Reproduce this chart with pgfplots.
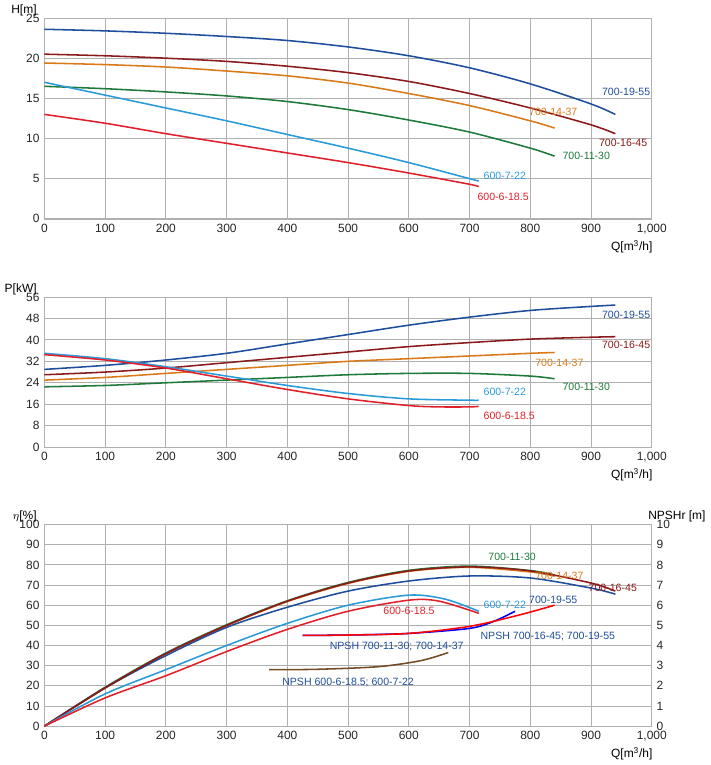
\documentclass[border=0pt]{standalone}
\usepackage{pgfplots}
\pgfplotsset{compat=1.18}
\usepackage{fontspec}
\setmainfont{Liberation Sans}
\definecolor{cA}{HTML}{1F4E9C}
\definecolor{cB}{HTML}{8B1A1A}
\definecolor{cC}{HTML}{D97A1A}
\definecolor{cD}{HTML}{1E7A3A}
\definecolor{cE}{HTML}{2A9AD8}
\definecolor{cF}{HTML}{E0202A}
\definecolor{gr}{HTML}{B0B0B0}
\tikzset{lab/.style={font=\fontsize{7.5}{8}\selectfont}}
\pgfplotsset{
  base/.style={scale only axis, width=431pt, xmin=0, xmax=1000, xtick={0,100,...,1000},
    grid=major, major grid style={gr, line width=0.6pt}, axis line style={gr},
    tick style={draw=none}, tick label style={font=\fontsize{8.5}{9}\selectfont, text=black!85},
    /pgf/number format/assume math mode=true,
    every axis plot/.append style={line width=1.1pt, smooth, no marks},
    xlabel={Q[m\textsuperscript{3}/h]}, xlabel style={at={(rel axis cs:1,0)}, anchor=north east, yshift=-12pt, xshift=4pt, font=\fontsize{8.5}{9}\selectfont},
    ylabel style={at={(rel axis cs:0,1)}, anchor=south east, rotate=-90, xshift=-2pt, yshift=-2pt, font=\fontsize{8.5}{9}\selectfont},
  },
}
\begin{document}
\begin{tikzpicture}
\begin{axis}[base, height=142.5pt, ymin=0, ymax=25, ytick={0,5,...,25}, ylabel={H[m]}]
\addplot[cA] coordinates {(0,23.6)(100,23.4)(200,23.1)(300,22.7)(400,22.2)(500,21.4)(600,20.3)(700,18.8)(800,16.8)(900,14.3)(940,13.0)};
\addplot[cB] coordinates {(0,20.5)(100,20.3)(200,20.0)(300,19.6)(400,19.0)(500,18.2)(600,17.1)(700,15.6)(800,13.8)(900,11.7)(940,10.6)};
\addplot[cC] coordinates {(0,19.4)(100,19.2)(200,18.9)(300,18.4)(400,17.8)(500,16.9)(600,15.6)(700,14.1)(800,12.2)(840,11.3)};
\addplot[cD] coordinates {(0,16.5)(100,16.2)(200,15.8)(300,15.3)(400,14.6)(500,13.6)(600,12.3)(700,10.8)(800,8.8)(840,7.8)};
\addplot[cE] coordinates {(0,17)(100,15.4)(200,13.8)(300,12.2)(400,10.5)(500,8.8)(600,7.0)(700,5.0)(715,4.7)};
\addplot[cF] coordinates {(0,13)(100,11.9)(200,10.6)(300,9.4)(400,8.2)(500,7.0)(600,5.7)(700,4.3)(715,4.0)};
\node[lab,text=cA,anchor=west] at (axis cs:910,15.8) {700-19-55};
\node[lab,text=cB,anchor=west] at (axis cs:905,9.5) {700-16-45};
\node[lab,text=cC,anchor=west] at (axis cs:790,13.3) {700-14-37};
\node[lab,text=cD,anchor=west] at (axis cs:845,7.8) {700-11-30};
\node[lab,text=cE,anchor=west] at (axis cs:715,5.4) {600-7-22};
\node[lab,text=cF,anchor=west] at (axis cs:705,2.7) {600-6-18.5};
\end{axis}
\begin{axis}[base, yshift=-162pt, height=106.5pt, ymin=0, ymax=56, ytick={0,8,...,56}, ylabel={P[kW]}]
\addplot[cA] coordinates {(0,29)(100,30.5)(200,32.5)(300,35)(400,38.5)(500,42)(600,45.5)(700,48.5)(800,51)(900,52.5)(940,53)};
\addplot[cB] coordinates {(0,27)(100,28)(200,29.5)(300,31.5)(400,33.5)(500,35.5)(600,37.5)(700,39)(800,40.3)(900,41)(940,41.2)};
\addplot[cC] coordinates {(0,25)(100,26)(200,27.5)(300,29)(400,30.5)(500,32)(600,33)(700,34)(800,35)(840,35.3)};
\addplot[cD] coordinates {(0,22.5)(100,23)(200,24)(300,25)(400,26)(500,27)(600,27.5)(700,27.5)(800,26.5)(840,25.5)};
\addplot[cE] coordinates {(0,35)(100,33)(200,30)(300,26.5)(400,23)(500,20)(600,18)(700,17.5)(715,17.5)};
\addplot[cF] coordinates {(0,34.5)(100,32.5)(200,29.5)(300,25.5)(400,21.5)(500,18)(600,15.5)(650,15)(700,15)(715,15.2)};
\node[lab,text=cA,anchor=west] at (axis cs:910,49.5) {700-19-55};
\node[lab,text=cB,anchor=west] at (axis cs:910,38) {700-16-45};
\node[lab,text=cC,anchor=west] at (axis cs:800,31.5) {700-14-37};
\node[lab,text=cD,anchor=west] at (axis cs:845,22.5) {700-11-30};
\node[lab,text=cE,anchor=west] at (axis cs:715,20.5) {600-7-22};
\node[lab,text=cF,anchor=west] at (axis cs:715,11.5) {600-6-18.5};
\end{axis}
\begin{axis}[base, yshift=-360pt, height=143pt, ymin=0, ymax=100, ytick={0,10,...,100}, ylabel={$\eta$[\%]}]
\addplot[cD] coordinates {(0,0)(100,19.3)(200,36.3)(300,50.3)(400,62.2)(500,71.3)(600,77.3)(700,79.4)(800,77.2)(840,75)};
\addplot[cC] coordinates {(0,0)(100,18.8)(200,35.8)(300,49.8)(400,61.8)(500,70.8)(600,76.8)(700,78.8)(800,76.5)(840,74.5)};
\addplot[cA] coordinates {(0,0)(100,19)(200,35)(300,49)(400,59)(500,67)(600,72)(700,74.5)(800,73.5)(900,68.5)(940,65.5)};
\addplot[cB] coordinates {(0,0)(100,19)(200,36)(300,50)(400,62)(500,71)(600,77)(700,79)(800,77)(900,71)(940,67)};
\addplot[cE] coordinates {(0,0)(100,16)(200,28)(300,40)(400,51)(500,60)(600,65)(660,63)(715,57)};
\addplot[cF] coordinates {(0,0)(100,14)(200,25)(300,37)(400,48)(500,57)(600,62.5)(650,62)(715,56)};
\node[lab,text=cD,anchor=south] at (axis cs:770,79.5) {700-11-30};
\node[lab,text=cC,anchor=west] at (axis cs:800,74.5) {700-14-37};
\node[lab,text=cB,anchor=west] at (axis cs:888,68.5) {700-16-45};
\node[lab,text=cA,anchor=west] at (axis cs:790,62.5) {700-19-55};
\node[lab,text=cE,anchor=west] at (axis cs:715,60) {600-7-22};
\node[lab,text=cF,anchor=west] at (axis cs:550,57) {600-6-18.5};
\end{axis}
\begin{axis}[scale only axis, width=431pt, height=143pt, yshift=-360pt, xmin=0, xmax=1000, ymin=0, ymax=10, ytick={0,1,...,10},
  axis x line=none, axis y line*=right, axis line style={draw=none}, tick style={draw=none},
  tick label style={font=\fontsize{8.5}{9}\selectfont, text=black!85},
  /pgf/number format/assume math mode=true,
  ylabel={NPSHr [m]}, ylabel style={at={(rel axis cs:1,1)}, anchor=south west, rotate=-90, font=\fontsize{8.5}{9}\selectfont, xshift=-6pt, yshift=-2pt},
  every axis plot/.append style={line width=1.1pt, smooth, no marks, cA}]
\addplot coordinates {(425,4.5)(500,4.52)(600,4.6)(700,4.85)(740,5.2)(775,5.7)};
\addplot coordinates {(425,4.5)(500,4.52)(600,4.6)(700,4.95)(780,5.5)(840,6.0)};
\addplot coordinates {(370,2.8)(450,2.82)(550,2.95)(620,3.25)(665,3.65)};
\node[lab,text=cA,anchor=north] at (axis cs:580,4.4) {NPSH 700-11-30; 700-14-37};
\node[lab,text=cA,anchor=west] at (axis cs:710,4.45) {NPSH 700-16-45; 700-19-55};
\node[lab,text=cA,anchor=north] at (axis cs:500,2.65) {NPSH 600-6-18.5; 600-7-22};
\end{axis}
\end{tikzpicture}
\end{document}
